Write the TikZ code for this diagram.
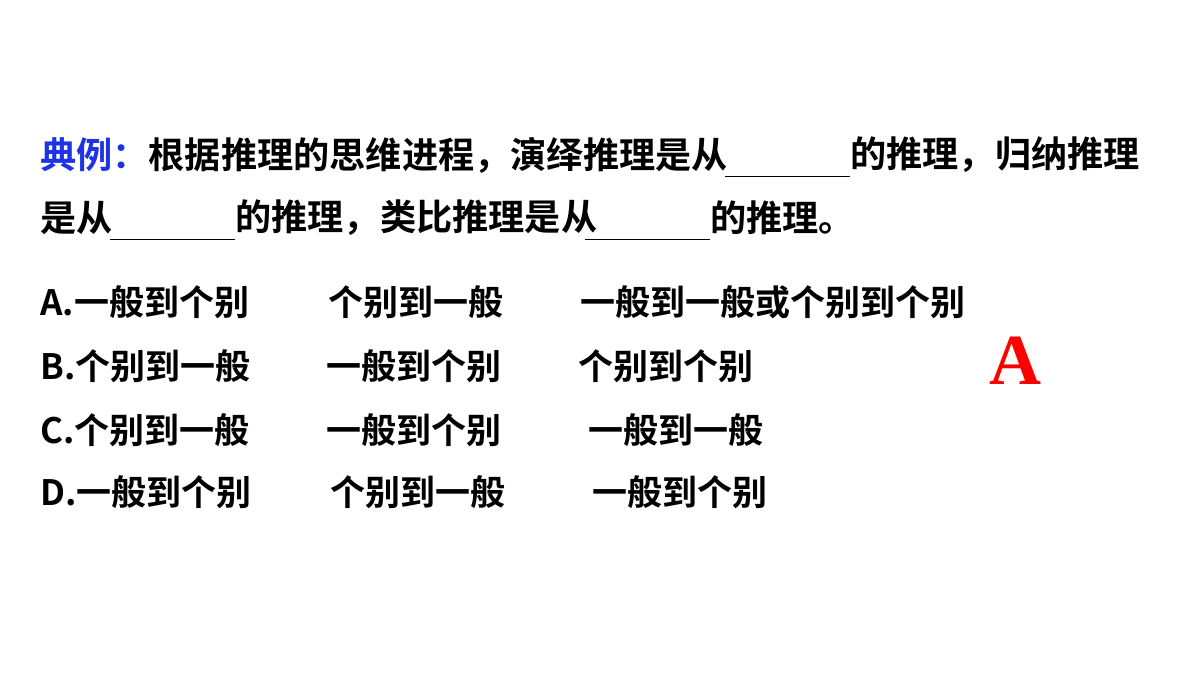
\documentclass[tikz,border=0pt]{standalone}
\usepackage{fontspec}
\newfontfamily\cjk{Noto Sans CJK SC Bold}
\newfontfamily\serifb{Liberation Serif}
\begin{document}
\begin{tikzpicture}[x=1pt,y=-1pt,
  t/.style={anchor=west,inner sep=0pt,font=\cjk\fontsize{36.2}{36.2}\selectfont},
  o/.style={anchor=west,inner sep=0pt,font=\cjk\fontsize{35}{35}\selectfont},
  blank/.style={line width=1pt}]
\useasboundingbox (0,0) rectangle (1200,675);
\fill[white] (0,0) rectangle (1200,675);
\node[t] (l1) at (40,155) {\textcolor[RGB]{30,50,230}{典例：}根据推理的思维进程，演绎推理是从};
\node[t] (l1b) at (850,155) {的推理，归纳推理};
\node[t] (l2a) at (40,218) {是从};
\node[t] (l2b) at (235,218) {的推理，类比推理是从};
\node[t] (l2c) at (710,218) {的推理。};
\draw[blank] (725,176) -- (850,176);
\draw[blank] (110,239) -- (235,239);
\draw[blank] (585,239) -- (710,239);
\node[o] (a1) at (40,302) {A.一般到个别};
\node[o] (a2) at (328,302) {个别到一般};
\node[o] (a3) at (580,302) {一般到一般或个别到个别};
\node[o] (b1) at (40,366) {B.个别到一般};
\node[o] (b2) at (326,366) {一般到个别};
\node[o] (b3) at (578,366) {个别到个别};
\node[o] (c1) at (40,430) {C.个别到一般};
\node[o] (c2) at (326,430) {一般到个别};
\node[o] (c3) at (588,430) {一般到一般};
\node[o] (d1) at (40,492) {D.一般到个别};
\node[o] (d2) at (330,492) {个别到一般};
\node[o] (d3) at (592,492) {一般到个别};
\node[anchor=center,inner sep=0pt,text=red,font=\serifb\bfseries\fontsize{72}{72}\selectfont] (ans) at (1015,361) {A};
\end{tikzpicture}
\end{document}
